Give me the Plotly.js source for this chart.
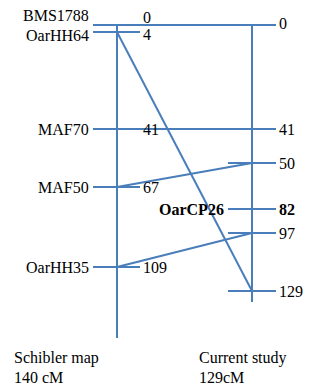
<!DOCTYPE html>
<html>
<head>
<meta charset="utf-8">
<script src="https://cdn.plot.ly/plotly-3.0.1.min.js"></script>
<style>html,body{margin:0;padding:0;background:#fff;}#chart{width:316px;height:390px;}</style>
</head>
<body>
<div id="chart"></div>
<script>
// Left map (Schibler map)
const leftMarkers = ['BMS1788', 'OarHH64', 'MAF70', 'MAF50', 'OarHH35'];
const leftCM = [0, 4, 41, 67, 109];
const leftPos = [0, 3.5, 52, 81, 121];      // drawn position along the bar
const leftEnd = 156.5;
// Right map (Current study)
const rightMarkers = ['BMS1788', 'MAF70', 'MAF50', 'OarCP26', 'OarHH35', 'OarHH64'];
const rightCM = [0, 41, 50, 82, 97, 129];
const rightPos = [0, 52, 69, 92, 104, 133];
const rightEnd = 138.5;
const boldMarkers = ['OarCP26'];
const mapNames = ['Schibler map', 'Current study'];
const mapLengths = ['140 cM', '129cM'];

const BLUE = '#4a7ebb';
const FONT = "'Liberation Serif', 'Times New Roman', Times, serif";
const xL = 117, xR = 252;

const traces = [];
const lineStyle = {color: BLUE, width: 2};
function seg(xs, ys) {
  traces.push({type: 'scatter', mode: 'lines', x: xs, y: ys, line: lineStyle, hoverinfo: 'skip', showlegend: false});
}
// chromosome bars
seg([xL, xL], [0, leftEnd]);
seg([xR, xR], [0, rightEnd]);
// ticks
let tx = [], ty = [];
leftPos.forEach(p => { tx.push(xL - 24, xL + 23, null); ty.push(p, p, null); });
seg(tx, ty);
tx = []; ty = [];
rightPos.forEach(p => { tx.push(xR - 24, xR + 24, null); ty.push(p, p, null); });
seg(tx, ty);
// connections between shared markers
tx = []; ty = [];
leftMarkers.forEach((m, i) => {
  const j = rightMarkers.indexOf(m);
  if (j >= 0) { tx.push(xL, xR, null); ty.push(leftPos[i], rightPos[j], null); }
});
seg(tx, ty);

const ann = [];
const yShiftName = {BMS1788: 10, OarHH64: -3};
const yShiftVal = {BMS1788: 8, OarHH64: -2};
leftMarkers.forEach((m, i) => {
  ann.push({x: xL - 26, y: leftPos[i], text: m, xanchor: 'right', yanchor: 'middle', showarrow: false, yshift: yShiftName[m] || 0});
  ann.push({x: xL + 24, y: leftPos[i], text: String(leftCM[i]), xanchor: 'left', yanchor: 'middle', showarrow: false, yshift: yShiftVal[m] || 0});
});
rightMarkers.forEach((m, j) => {
  const b = boldMarkers.includes(m);
  ann.push({x: xR + 25, y: rightPos[j], text: b ? '<b>' + rightCM[j] + '</b>' : String(rightCM[j]), xanchor: 'left', yanchor: 'middle', showarrow: false, yshift: j === 0 ? 2 : 0});
  if (b) ann.push({x: xR - 26, y: rightPos[j], text: '<b>' + m + '</b>', xanchor: 'right', yanchor: 'middle', showarrow: false});
});
[12, 197].forEach((x, k) => {
  ann.push({x: x, y: 166.5, text: mapNames[k], xanchor: 'left', yanchor: 'middle', showarrow: false});
  ann.push({x: x, y: 176, text: mapLengths[k], xanchor: 'left', yanchor: 'middle', showarrow: false});
});

const layout = {
  width: 316, height: 390,
  margin: {l: 0, r: 0, t: 0, b: 0},
  paper_bgcolor: '#fff', plot_bgcolor: '#fff',
  font: {family: FONT, size: 16, color: '#000'},
  xaxis: {range: [0, 316], visible: false, fixedrange: true},
  yaxis: {range: [182.5, -12.5], visible: false, fixedrange: true},
  annotations: ann,
  showlegend: false
};
Plotly.newPlot('chart', traces, layout, {staticPlot: true});
</script>
</body>
</html>
